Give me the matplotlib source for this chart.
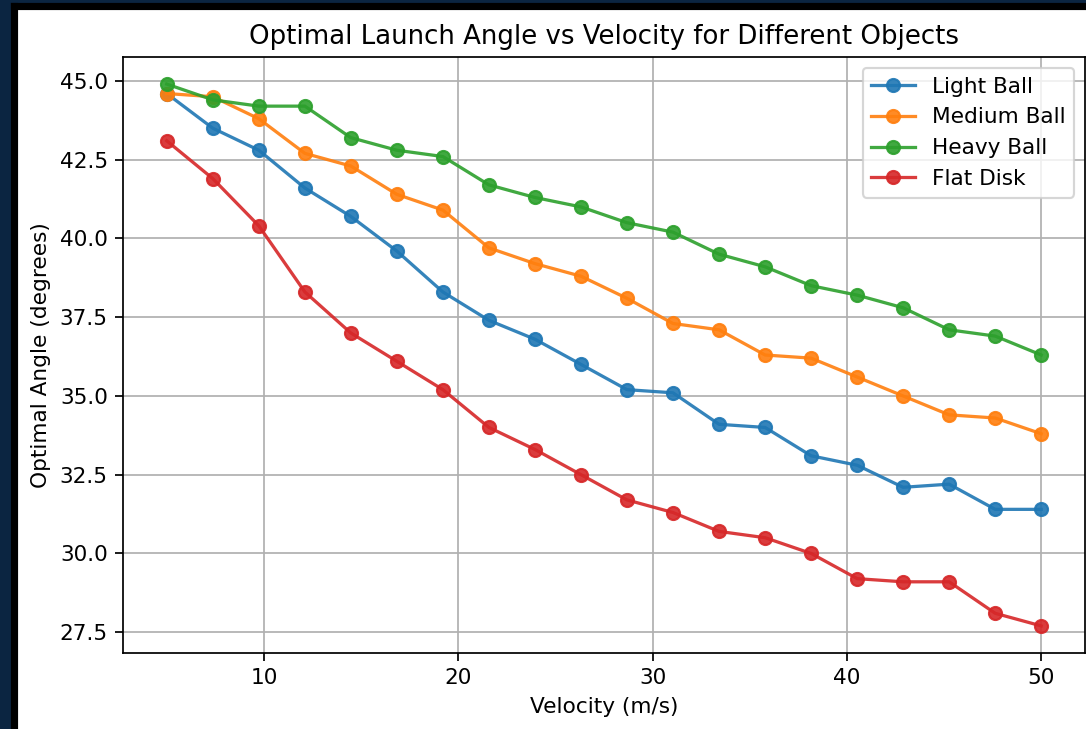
import matplotlib
matplotlib.use('Agg')
import matplotlib.pyplot as plt
from matplotlib.patches import Rectangle

velocity = [5.0, 7.37, 9.74, 12.11, 14.47, 16.84, 19.21, 21.58, 23.95, 26.32,
            28.68, 31.05, 33.42, 35.79, 38.16, 40.53, 42.89, 45.26, 47.63, 50.0]

light_ball = [44.6, 43.5, 42.8, 41.6, 40.7, 39.6, 38.3, 37.4, 36.8, 36.0,
              35.2, 35.1, 34.1, 34.0, 33.1, 32.8, 32.1, 32.2, 31.4, 31.4]
medium_ball = [44.6, 44.5, 43.8, 42.7, 42.3, 41.4, 40.9, 39.7, 39.2, 38.8,
               38.1, 37.3, 37.1, 36.3, 36.2, 35.6, 35.0, 34.4, 34.3, 33.8]
heavy_ball = [44.9, 44.4, 44.2, 44.2, 43.2, 42.8, 42.6, 41.7, 41.3, 41.0,
              40.5, 40.2, 39.5, 39.1, 38.5, 38.2, 37.8, 37.1, 36.9, 36.3]
flat_disk = [43.1, 41.9, 40.4, 38.3, 37.0, 36.1, 35.2, 34.0, 33.3, 32.5,
             31.7, 31.3, 30.7, 30.5, 30.0, 29.2, 29.1, 29.1, 28.1, 27.7]

labels = ['Light Ball', 'Medium Ball', 'Heavy Ball', 'Flat Disk']
series = [light_ball, medium_ball, heavy_ball, flat_disk]

W, H = 1086, 729
DPI = 156
fig = plt.figure(figsize=(W / DPI, H / DPI), dpi=DPI)

# screenshot frame (navy band + black line)
navy = '#0b2541'
fig.patches.append(Rectangle((0, 0), 12 / W, 1, transform=fig.transFigure, color=navy, zorder=0))
fig.patches.append(Rectangle((0, 1 - 4 / H), 1, 4 / H, transform=fig.transFigure, color=navy, zorder=0))
fig.patches.append(Rectangle((12 / W, 0), 5 / W, 1 - 4 / H, transform=fig.transFigure, color='black', zorder=0))
fig.patches.append(Rectangle((12 / W, 1 - 9 / H), 1, 5 / H, transform=fig.transFigure, color='black', zorder=0))

ax = fig.add_axes([123 / W, (H - 653) / H, (1085 - 123) / W, (653 - 57) / H])

for lab, vals in zip(labels, series):
    ax.plot(velocity, vals, marker='o', label=lab, alpha=0.9)

ax.set_title('Optimal Launch Angle vs Velocity for Different Objects')
ax.set_xlabel('Velocity (m/s)')
ax.set_ylabel('Optimal Angle (degrees)')
ax.grid(True)
ax.legend(loc='upper right')

fig.savefig('out.png', dpi=DPI)
